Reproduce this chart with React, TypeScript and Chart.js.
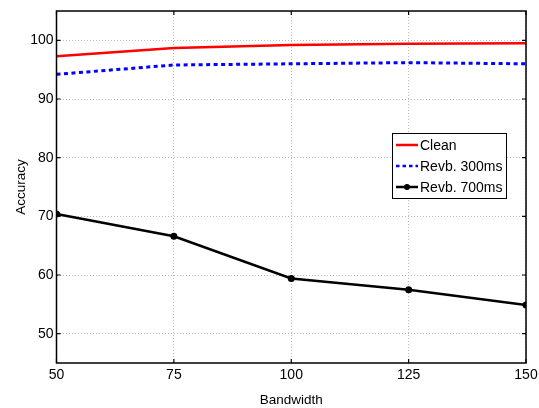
import React, { useEffect, useRef } from "react";
import { Chart, registerables } from "chart.js";

Chart.register(...registerables);

const bandwidth = [50, 75, 100, 125, 150];
const clean = [97.3, 98.7, 99.2, 99.4, 99.5];
const revb300 = [94.2, 95.8, 96.0, 96.2, 96.0];
const revb700 = [70.4, 66.6, 59.4, 57.5, 54.9];
const xTicks = [50, 75, 100, 125, 150];
const yTicks = [50, 60, 70, 80, 90, 100];
const seriesNames = ["Clean", "Revb. 300ms", "Revb. 700ms"];

const FONT = "'Liberation Sans', Arial, Helvetica, sans-serif";

const framePlugin = {
  id: "frame",
  afterDraw(chart: any) {
    const { ctx, chartArea } = chart;
    const { left, right, top, bottom } = chartArea;
    const xs = chart.scales.x;
    const ys = chart.scales.y;
    ctx.save();
    ctx.strokeStyle = "#000";
    ctx.lineWidth = 1.5;
    ctx.setLineDash([]);
    ctx.strokeRect(left, top, right - left, bottom - top);
    ctx.lineWidth = 1.2;
    const tl = 4;
    xTicks.forEach((v) => {
      const px = xs.getPixelForValue(v);
      ctx.beginPath();
      ctx.moveTo(px, bottom);
      ctx.lineTo(px, bottom - tl);
      ctx.moveTo(px, top);
      ctx.lineTo(px, top + tl);
      ctx.stroke();
    });
    yTicks.forEach((v) => {
      const py = ys.getPixelForValue(v);
      ctx.beginPath();
      ctx.moveTo(left, py);
      ctx.lineTo(left + tl, py);
      ctx.moveTo(right, py);
      ctx.lineTo(right - tl, py);
      ctx.stroke();
    });

    // legend
    const bx = right - 134;
    const by = top + 122;
    const bw = 114;
    const bh = 65;
    ctx.fillStyle = "#fff";
    ctx.fillRect(bx, by, bw, bh);
    ctx.strokeStyle = "#000";
    ctx.lineWidth = 1;
    ctx.strokeRect(bx + 0.5, by + 0.5, bw, bh);
    const rows = [by + 12, by + 33, by + 54];
    const styles = [
      { color: "#ff0000", dash: [] as number[], point: false },
      { color: "#0000ff", dash: [3.5, 3] as number[], point: false },
      { color: "#000000", dash: [] as number[], point: true },
    ];
    ctx.font = `14px ${FONT}`;
    ctx.textBaseline = "middle";
    ctx.textAlign = "left";
    rows.forEach((ry, i) => {
      const s = styles[i];
      ctx.strokeStyle = s.color;
      ctx.lineWidth = 2.5;
      ctx.setLineDash(s.dash);
      ctx.beginPath();
      ctx.moveTo(bx + 4, ry);
      ctx.lineTo(bx + 26, ry);
      ctx.stroke();
      ctx.setLineDash([]);
      if (s.point) {
        ctx.fillStyle = "#000";
        ctx.beginPath();
        ctx.arc(bx + 15, ry, 3, 0, Math.PI * 2);
        ctx.fill();
      }
      ctx.fillStyle = "#000";
      ctx.fillText(seriesNames[i], bx + 28, ry + 1);
    });
    ctx.restore();
  },
};

export default function App() {
  const ref = useRef<HTMLCanvasElement>(null);
  useEffect(() => {
    document.body.style.margin = "0";
    const canvas = ref.current!;
    const toXY = (arr: number[]) => arr.map((v, i) => ({ x: bandwidth[i], y: v }));
    const chart = new Chart(canvas, {
      type: "line",
      data: {
        datasets: [
          {
            label: seriesNames[0],
            data: toXY(clean),
            borderColor: "#ff0000",
            borderWidth: 2.5,
            pointRadius: 0,
            tension: 0,
          },
          {
            label: seriesNames[1],
            data: toXY(revb300),
            borderColor: "#0000ff",
            borderWidth: 3,
            borderDash: [4, 3.5],
            pointRadius: 0,
            tension: 0,
          },
          {
            label: seriesNames[2],
            data: toXY(revb700),
            borderColor: "#000000",
            backgroundColor: "#000000",
            borderWidth: 2.5,
            pointRadius: 3.5,
            pointBackgroundColor: "#000",
            pointBorderWidth: 0,
            tension: 0,
          },
        ],
      },
      options: {
        responsive: false,
        animation: false,
        layout: { padding: { top: 11, right: 13, left: 0, bottom: 0 } },
        plugins: { legend: { display: false }, tooltip: { enabled: false } },
        scales: {
          x: {
            type: "linear",
            min: 50,
            max: 150,
            afterBuildTicks: (s: any) => {
              s.ticks = xTicks.map((v) => ({ value: v }));
            },
            afterFit: (s: any) => {
              s.height = 45;
              s.paddingLeft = 0;
              s.paddingRight = 0;
            },
            ticks: {
              color: "#000",
              font: { family: FONT, size: 14 },
              padding: 4,
              maxRotation: 0,
            },
            grid: { color: "#b8b8b8", lineWidth: 1, drawTicks: false },
            border: { display: false, dash: [1, 2] },
            title: {
              display: true,
              text: "Bandwidth",
              color: "#000",
              font: { family: FONT, size: 13.5 },
              padding: { top: 0, bottom: 0 },
            },
          },
          y: {
            type: "linear",
            min: 45,
            max: 105,
            afterBuildTicks: (s: any) => {
              s.ticks = yTicks.map((v) => ({ value: v }));
            },
            afterFit: (s: any) => {
              s.width = 56.5;
              s.paddingTop = 0;
              s.paddingBottom = 0;
            },
            ticks: {
              color: "#000",
              font: { family: FONT, size: 14 },
              padding: 3,
            },
            grid: { color: "#b8b8b8", lineWidth: 1, drawTicks: false },
            border: { display: false, dash: [1, 2] },
            title: {
              display: true,
              text: "Accuracy",
              color: "#000",
              font: { family: FONT, size: 13.5 },
              padding: { top: 13, bottom: 0 },
            },
          },
        },
      },
      plugins: [framePlugin],
    });
    return () => chart.destroy();
  }, []);
  return (
    <div style={{ position: "fixed", left: 0, top: 0, width: 539, height: 408, background: "#fff" }}>
      <canvas ref={ref} width={539} height={408} style={{ width: 539, height: 408 }} />
    </div>
  );
}
